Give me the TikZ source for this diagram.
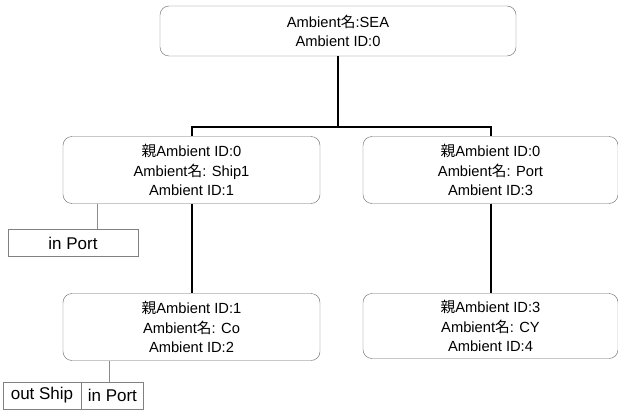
\documentclass[tikz,border=0pt]{standalone}
\usepackage{fontspec}
\setmainfont{Liberation Sans}
\newfontfamily\jp{Noto Sans CJK JP}
\usetikzlibrary{positioning}
\newcommand\mei{{\jp 名}}
\newcommand\oya{{\jp 親}}

\tikzset{
  ambient/.style={draw=black!60, rounded corners=9pt, align=center,
    minimum width=257pt, minimum height=67pt, inner sep=0pt,
    font=\fontsize{14.7}{19.2}\selectfont},
  tree/.style={line width=2pt},
  tag/.style={draw=black!50, minimum height=27pt, inner sep=0pt,
    font=\fontsize{17}{20}\selectfont},
  tagline/.style={draw=black!45, line width=0.8pt}
}

\begin{document}
\begin{tikzpicture}[x=1pt,y=-1pt]
    \useasboundingbox (0,0) rectangle (618,412);

    % ambients
    \node[ambient, minimum width=356pt, minimum height=50pt] (sea) at (338,31)
      {Ambient\mei:SEA\\Ambient ID:0};
    \node[ambient] (ship) at (191.5,170)
      {\oya Ambient ID:0\\Ambient\mei: Ship1\\Ambient ID:1};
    \node[ambient, minimum width=255pt] (port) at (490.5,170)
      {\oya Ambient ID:0\\Ambient\mei: Port\\Ambient ID:3};
    \node[ambient] (co) at (191.5,327)
      {\oya Ambient ID:1\\Ambient\mei: Co\\Ambient ID:2};
    \node[ambient, minimum width=255pt, minimum height=65pt] (cy) at (490.5,326)
      {\oya Ambient ID:3\\Ambient\mei: CY\\Ambient ID:4};

    % tree
    \draw[tree] (sea.south) -- ++(0,71) coordinate (fork);
    \draw[tree] (ship.north) |- (fork) -| (port.north);
    \draw[tree] (ship.south) -- (co.north);
    \draw[tree] (port.south) -- (cy.north);

    % capabilities
    \node[tag, minimum width=130pt] (shipin) at (73,243) {in Port};
    \node[tag, minimum width=78pt] (coout) at (42,395.5) {out Ship};
    \node[tag, minimum width=62pt, right=0pt of coout] (coin) {in Port};

    \draw[tagline] ([xshift=24pt]shipin.north) -- ([xshift=24pt]shipin.north |- ship.south);
    \draw[tagline] ([xshift=-3pt]coin.north) -- ([xshift=-3pt]coin.north |- co.south);
\end{tikzpicture}
\end{document}
